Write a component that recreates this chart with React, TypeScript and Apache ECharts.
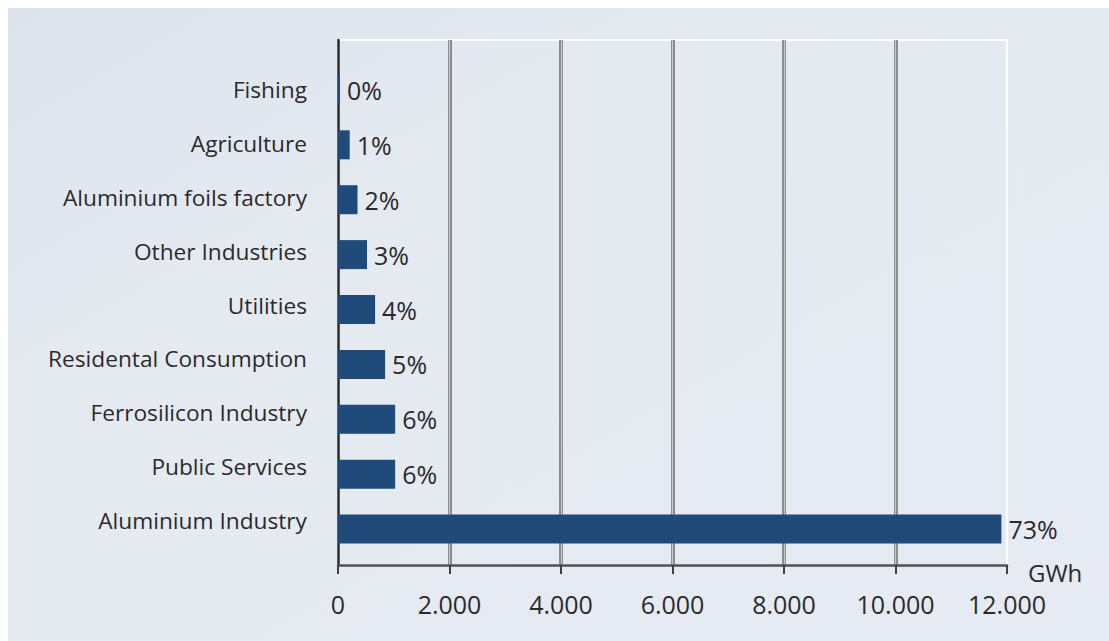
import React, { useEffect, useRef } from "react";
import * as echarts from "echarts";

const categories = [
  "Aluminium Industry",
  "Public Services",
  "Ferrosilicon Industry",
  "Residental Consumption",
  "Utilities",
  "Other Industries",
  "Aluminium foils factory",
  "Agriculture",
  "Fishing",
];
const consumptionGWh = [11900, 1025, 1025, 845, 665, 520, 350, 210, 36];
const shareLabels = ["73%", "6%", "6%", "5%", "4%", "3%", "2%", "1%", "0%"];
const xTicks = [0, 2000, 4000, 6000, 8000, 10000, 12000];

const FONT = "'Open Sans', 'Noto Sans', sans-serif";
const TEXT = "#2a2a2e";

function fmt(v: number) {
  return v === 0 ? "0" : (v / 1000).toFixed(0) + ".000";
}

export default function App() {
  const ref = useRef<HTMLDivElement>(null);
  useEffect(() => {
    if (!ref.current) return;
    const chart = echarts.init(ref.current, undefined, { renderer: "svg" });
    const xMin = xTicks[0];
    const xMax = xTicks[xTicks.length - 1];
    const step = xTicks[1] - xTicks[0];
    const hiddenX = (gridIndex: number) => ({
      gridIndex,
      type: "value",
      min: xMin,
      max: xMax,
      interval: step,
      show: false,
      splitLine: { show: false },
    });
    chart.setOption({
      animation: false,
      backgroundColor: "#ffffff",
      graphic: [
        {
          type: "rect",
          left: 8,
          top: 8,
          z: -10,
          silent: true,
          shape: { width: 1101, height: 633 },
          style: {
            fill: new echarts.graphic.LinearGradient(0, 0, 1, 1, [
              { offset: 0, color: "#dce3eb" },
              { offset: 0.3, color: "#e5eaf1" },
              { offset: 1, color: "#e6eaf2" },
            ]),
          },
        },
      ],
      grid: [
        {
          left: 338,
          right: 102,
          top: 40,
          bottom: 76,
          show: true,
          backgroundColor: "transparent",
          borderColor: "#ffffff",
          borderWidth: 2,
        },
        { left: 338, right: 102, top: 62.5, bottom: 84.5 },
        { left: 338, right: 102, top: 63.1, bottom: 94.1 },
      ],
      xAxis: [
        {
          gridIndex: 0,
          type: "value",
          min: xMin,
          max: xMax,
          interval: step,
          name: "GWh",
          nameLocation: "end",
          nameGap: 21,
          nameTextStyle: {
            fontFamily: FONT,
            fontSize: 24,
            color: TEXT,
            verticalAlign: "top",
            lineHeight: 14,
          },
          axisLine: { show: true, lineStyle: { color: "#505050", width: 2.5 } },
          axisTick: { show: true, length: 9, lineStyle: { color: "#404040", width: 2 } },
          axisLabel: {
            fontFamily: FONT,
            fontSize: 25,
            color: TEXT,
            margin: 26,
            formatter: (v: number) => fmt(v),
          },
          splitLine: {
            show: true,
            showMinLine: false,
            showMaxLine: false,
            lineStyle: { color: "#8a8a8a", width: 4 },
          },
        },
        {
          gridIndex: 0,
          type: "value",
          min: xMin,
          max: xMax,
          interval: step,
          axisLine: { show: false },
          axisTick: { show: false },
          axisLabel: { show: false },
          splitLine: {
            show: true,
            showMinLine: false,
            showMaxLine: false,
            lineStyle: { color: "#c6c6c6", width: 1.2 },
          },
        },
        hiddenX(1),
        hiddenX(2),
      ],
      yAxis: [
        {
          gridIndex: 0,
          type: "value",
          min: 0,
          max: 1,
          axisLine: { show: true, lineStyle: { color: "#2a2a2a", width: 2.5 } },
          axisTick: { show: false },
          axisLabel: { show: false },
          splitLine: { show: false },
        },
        {
          gridIndex: 1,
          type: "category",
          data: categories,
          show: false,
        },
        {
          gridIndex: 2,
          type: "category",
          data: categories,
          axisLine: { show: false },
          axisTick: { show: false },
          axisLabel: {
            fontFamily: FONT,
            fontSize: 22.7,
            color: TEXT,
            margin: 31,
          },
          splitLine: { show: false },
        },
      ],
      series: [
        {
          type: "bar",
          xAxisIndex: 2,
          yAxisIndex: 1,
          data: consumptionGWh,
          barWidth: 29,
          itemStyle: { color: "#1f4a79" },
          z: 5,
          label: {
            show: true,
            position: "right",
            distance: 7,
            fontFamily: FONT,
            fontSize: 25,
            color: TEXT,
            formatter: (p: any) => shareLabels[p.dataIndex],
          },
        },
      ],
    });
    return () => chart.dispose();
  }, []);
  return (
    <div
      ref={ref}
      style={{ position: "absolute", left: 0, top: 0, width: 1109, height: 641 }}
    />
  );
}
